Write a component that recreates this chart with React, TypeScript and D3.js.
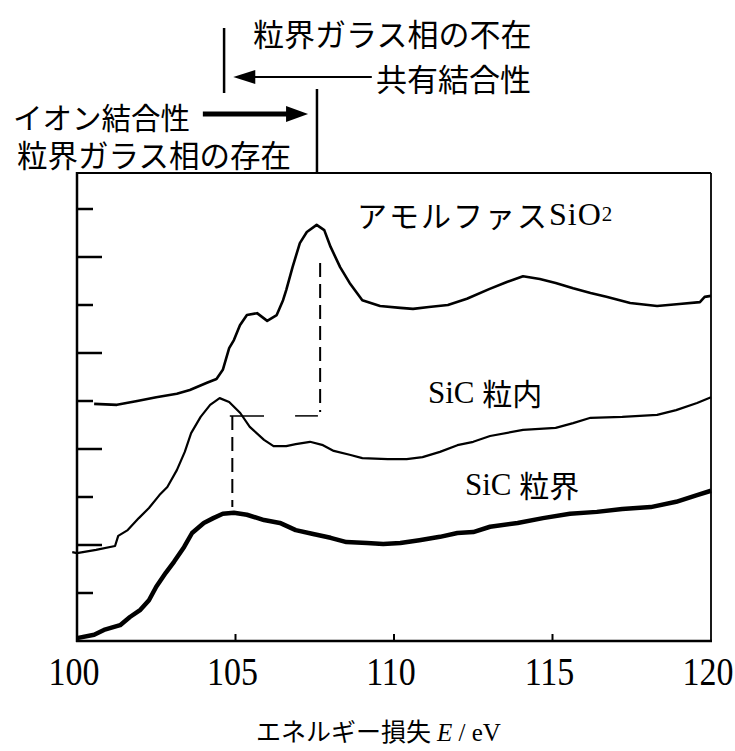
import React from 'react';
import * as d3 from 'd3';

// ---- data (energy loss in eV, intensity in arbitrary units, offset per spectrum) ----
const X_TICKS = [100, 105, 110, 115, 120];
const Y_TICKS = [1, 2, 3, 4, 5, 6, 7, 8, 9];

const SIO2_E = [100.54, 101.26, 101.9, 102.5, 103.15, 103.56, 104.1, 104.4, 104.6, 104.8, 104.95, 105.14, 105.36, 105.68, 106.0, 106.3, 106.5, 106.6, 106.8, 107.03, 107.25, 107.56, 107.8, 108.0, 108.3, 108.6, 109.0, 109.56, 110.2, 110.6, 111.1, 111.7, 112.3, 113.0, 113.56, 114.07, 114.6, 115.1, 115.65, 116.2, 116.7, 117.45, 118.3, 119.0, 119.65, 119.8, 120.0];
const SIO2_I = [4.94, 4.92, 5.0, 5.08, 5.15, 5.23, 5.38, 5.46, 5.65, 6.1, 6.27, 6.58, 6.79, 6.83, 6.67, 6.79, 7.1, 7.31, 7.79, 8.29, 8.52, 8.67, 8.56, 8.21, 7.79, 7.46, 7.1, 6.98, 6.94, 6.92, 6.96, 7.0, 7.13, 7.33, 7.48, 7.6, 7.54, 7.46, 7.35, 7.25, 7.17, 7.04, 6.98, 7.02, 7.06, 7.17, 7.19];

const GRAIN_E = [99.85, 100.0, 100.6, 101.2, 101.3, 101.6, 101.95, 102.27, 102.6, 102.85, 103.15, 103.4, 103.6, 103.9, 104.2, 104.5, 104.8, 105.15, 105.45, 105.9, 106.2, 106.6, 106.9, 107.35, 107.76, 108.1, 108.6, 109.0, 109.8, 110.4, 110.9, 111.45, 112.0, 112.5, 113.03, 114.07, 115.1, 115.65, 116.2, 117.2, 118.3, 118.9, 119.56, 120.0];
const GRAIN_I = [1.85, 1.83, 1.9, 1.98, 2.19, 2.31, 2.56, 2.77, 3.04, 3.21, 3.56, 3.94, 4.33, 4.67, 4.92, 5.06, 4.98, 4.75, 4.46, 4.19, 4.06, 4.06, 4.1, 4.15, 4.08, 3.96, 3.88, 3.81, 3.79, 3.79, 3.83, 3.94, 4.08, 4.15, 4.27, 4.4, 4.44, 4.54, 4.65, 4.67, 4.71, 4.81, 4.96, 5.08];

const BOUND_E = [100.0, 100.54, 100.85, 101.36, 101.67, 102.0, 102.27, 102.5, 102.8, 103.06, 103.38, 103.63, 104.0, 104.3, 104.6, 104.95, 105.36, 105.9, 106.4, 106.9, 107.45, 108.0, 108.5, 109.15, 109.66, 110.2, 110.8, 111.45, 112.0, 112.5, 113.03, 113.9, 114.7, 115.55, 116.4, 117.2, 118.1, 118.9, 119.56, 120.0];
const BOUND_I = [0.06, 0.13, 0.23, 0.33, 0.5, 0.65, 0.85, 1.13, 1.42, 1.65, 1.96, 2.25, 2.46, 2.56, 2.65, 2.67, 2.63, 2.52, 2.46, 2.31, 2.23, 2.15, 2.06, 2.04, 2.02, 2.04, 2.1, 2.17, 2.25, 2.27, 2.38, 2.46, 2.56, 2.65, 2.69, 2.75, 2.79, 2.9, 3.04, 3.13];

// peak markers
const SIO2_PEAK_E = 107.67;
const BOUND_PEAK_E = 104.9;
const DASH_SIO2 = [7.875, 4.77];
const DASH_BOUND = [4.69, 2.79];
const CONNECT_LEVEL = 4.69;
const CONNECT_SEGS = [[104.82, 105.9], [106.88, 107.6]];

// annotation anchors (eV)
const MARK_COVALENT = 104.64;
const MARK_IONIC = 107.57;
const ARROW_LEFT = [109.3, 104.93];
const ARROW_RIGHT = [103.97, 107.29];

const JP = '"Noto Sans CJK JP", "Noto Sans CJK SC", sans-serif';
const SERIF = '"Liberation Serif", "DejaVu Serif", serif';

export default function App() {
  const W = 735;
  const H = 751;
  const L = 77, R = 711, T = 173, B = 641;
  const x = d3.scaleLinear().domain([100, 120]).range([L, R]);
  const y = d3.scaleLinear().domain([0, 9.75]).range([B, T]);
  const line = d3
    .line<[number, number]>()
    .x((d) => x(d[0]))
    .y((d) => y(d[1]))
    .curve(d3.curveLinear);
  const zip = (a: number[], b: number[]) => a.map((v, i) => [v, b[i]] as [number, number]);

  const xl = x(ARROW_LEFT[1]);
  const xr = x(ARROW_RIGHT[1]);

  return (
    <svg
      width={W}
      height={H}
      style={{ position: 'absolute', left: 0, top: 0, background: '#fff' }}
    >
      <rect x={0} y={0} width={W} height={H} fill="#fff" />

      {/* top annotations */}
      <text x={253} y={32} fontFamily={JP} fontSize={31} dominantBaseline="central">粒界ガラス相の不在</text>
      <line x1={x(MARK_COVALENT)} x2={x(MARK_COVALENT)} y1={28} y2={93} stroke="#000" strokeWidth={2.5} />
      <line x1={x(ARROW_LEFT[0])} x2={xl + 16} y1={77} y2={77} stroke="#000" strokeWidth={2} />
      <path d={`M${xl},77 L${xl + 22},70 L${xl + 22},84 Z`} fill="#000" />
      <text x={376} y={77} fontFamily={JP} fontSize={31} dominantBaseline="central">共有結合性</text>

      <text x={13} y={116} fontFamily={JP} fontSize={29.5} dominantBaseline="central">イオン結合性</text>
      <line x1={x(ARROW_RIGHT[0])} x2={xr - 16} y1={114} y2={114} stroke="#000" strokeWidth={5} />
      <path d={`M${xr},114 L${xr - 22},106 L${xr - 22},122 Z`} fill="#000" />
      <line x1={x(MARK_IONIC)} x2={x(MARK_IONIC)} y1={89} y2={T} stroke="#000" strokeWidth={2.5} />
      <text x={17} y={154} fontFamily={JP} fontSize={30.5} dominantBaseline="central">粒界ガラス相の存在</text>

      {/* frame */}
      <line x1={L} x2={R} y1={T} y2={T} stroke="#000" strokeWidth={2} />
      <line x1={R} x2={R} y1={T} y2={B} stroke="#000" strokeWidth={1.8} />
      <line x1={L} x2={L} y1={T - 1} y2={B + 1} stroke="#000" strokeWidth={2.5} />
      <line x1={L - 1} x2={R + 1} y1={B} y2={B} stroke="#000" strokeWidth={2.5} />

      {/* y ticks (inward, alternating length) */}
      {Y_TICKS.map((t) => (
        <line
          key={'yt' + t}
          x1={L}
          x2={L + (t % 2 === 0 ? 25 : 16)}
          y1={y(t)}
          y2={y(t)}
          stroke="#000"
          strokeWidth={2.5}
        />
      ))}

      {/* x ticks (inward) */}
      {X_TICKS.slice(1, -1).map((t) => (
        <line key={'xt' + t} x1={x(t)} x2={x(t)} y1={B} y2={B - 7} stroke="#000" strokeWidth={2} />
      ))}
      {X_TICKS.map((t) => (
        <text
          key={'xl' + t}
          transform={`translate(${x(t) - 3},685) scale(1,1.15)`}
          fontFamily={SERIF}
          fontSize={34}
          textAnchor="middle"
        >
          {t}
        </text>
      ))}

      {/* axis title */}
      <text x={256} y={741} fontSize={25} fontFamily={JP}>
        エネルギー損失
        <tspan fontFamily={SERIF} fontStyle="italic" dx={6}>E</tspan>
        <tspan fontFamily={SERIF}> / eV</tspan>
      </text>

      {/* reference lines */}
      <line
        x1={x(SIO2_PEAK_E)} x2={x(SIO2_PEAK_E)} y1={y(DASH_SIO2[0])} y2={y(DASH_SIO2[1])}
        stroke="#000" strokeWidth={2} strokeDasharray="14,7"
      />
      <line
        x1={x(BOUND_PEAK_E)} x2={x(BOUND_PEAK_E)} y1={y(DASH_BOUND[0])} y2={y(DASH_BOUND[1])}
        stroke="#000" strokeWidth={2} strokeDasharray="14,7"
      />
      {CONNECT_SEGS.map((s, i) => (
        <line key={'cs' + i} x1={x(s[0])} x2={x(s[1])} y1={y(CONNECT_LEVEL)} y2={y(CONNECT_LEVEL)} stroke="#000" strokeWidth={1.5} />
      ))}

      {/* spectra */}
      <path d={line(zip(SIO2_E, SIO2_I)) || ''} fill="none" stroke="#000" strokeWidth={2.6} strokeLinejoin="round" />
      <path d={line(zip(GRAIN_E, GRAIN_I)) || ''} fill="none" stroke="#000" strokeWidth={2.2} strokeLinejoin="round" />
      <path d={line(zip(BOUND_E, BOUND_I)) || ''} fill="none" stroke="#000" strokeWidth={4.5} strokeLinejoin="round" />

      {/* labels */}
      <text x={357} y={214} dominantBaseline="central" fontSize={30} fontFamily={JP} letterSpacing={2}>
        アモルファス
        <tspan fontFamily={SERIF} fontSize={32} letterSpacing={1}>SiO</tspan>
        <tspan fontFamily={SERIF} fontSize={21}>2</tspan>
      </text>
      <text x={428} y={392} dominantBaseline="central" fontSize={31} fontFamily={SERIF}>
        SiC <tspan fontFamily={JP} fontSize={30}>粒内</tspan>
      </text>
      <text x={465} y={484} dominantBaseline="central" fontSize={31} fontFamily={SERIF}>
        SiC <tspan fontFamily={JP} fontSize={30}>粒界</tspan>
      </text>
    </svg>
  );
}
